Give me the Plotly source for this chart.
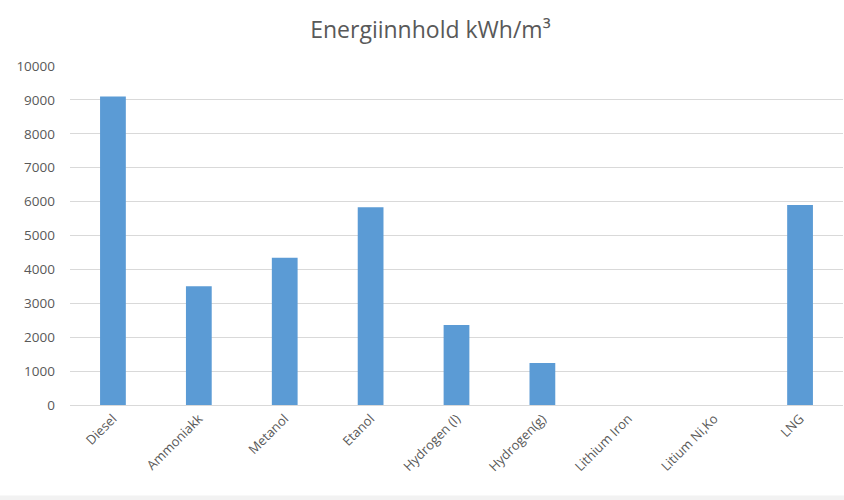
import plotly.graph_objects as go

# Energy content per fuel / storage medium (kWh per cubic metre)
categories = ["Diesel", "Ammoniakk", "Metanol", "Etanol", "Hydrogen (l)",
              "Hydrogen(g)", "Lithium Iron", "Litium Ni,Ko", "LNG"]
values = [9100, 3500, 4340, 5830, 2360, 1240, 0, 0, 5900]
y_ticks = [0, 1000, 2000, 3000, 4000, 5000, 6000, 7000, 8000, 9000, 10000]

text_grey = "#595959"
font_family = "Open Sans, Liberation Sans, sans-serif"

fig = go.Figure(
    go.Bar(
        x=categories,
        y=values,
        marker=dict(color="#5B9BD5", line=dict(width=0)),
        width=0.3,
    )
)

fig.update_layout(
    width=844,
    height=500,
    margin=dict(l=70, r=1, t=66, b=95),
    paper_bgcolor="white",
    plot_bgcolor="white",
    showlegend=False,
    title=dict(
        text="Energiinnhold kWh/m³",
        x=0.51,
        xanchor="center",
        y=0.94,
        yanchor="middle",
        font=dict(family=font_family, size=23, color=text_grey),
    ),
    font=dict(family=font_family, color=text_grey),
    shapes=[
        # faint strip along the bottom edge of the page
        dict(type="rect", xref="paper", yref="paper",
             x0=-0.1, x1=1.1, y0=-0.30, y1=-0.267,
             fillcolor="#F2F2F2", line=dict(width=0), layer="below"),
    ],
)

fig.update_xaxes(
    tickangle=-45,
    tickfont=dict(size=13, color=text_grey),
    showgrid=False,
    showline=True,
    linecolor="#D9D9D9",
    linewidth=1,
    ticks="",
)

fig.update_yaxes(
    range=[0, 10000],
    tickvals=y_ticks,
    ticktext=[str(v) for v in y_ticks],
    tickfont=dict(size=13.5, color=text_grey),
    showgrid=True,
    gridcolor="#D9D9D9",
    gridwidth=1,
    zeroline=False,
    ticks="",
    ticklabelstandoff=14,
)

fig.write_html("out.html")
